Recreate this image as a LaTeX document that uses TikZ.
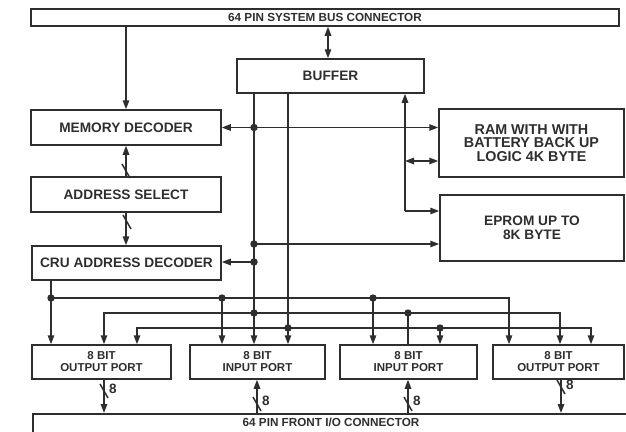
\documentclass[tikz,border=0pt]{standalone}
\usepackage{fontspec}
\setmainfont{Liberation Sans}
\usetikzlibrary{positioning,arrows.meta,calc}

\tikzset{
  ink/.style={draw=black!82, text=black!82},
  blk/.style={ink, line width=1.5pt, inner sep=0pt, align=center,
    font=\bfseries\fontsize{13.7}{13.7}\selectfont},
  portblk/.style={blk, minimum height=34pt,
    font=\bfseries\fontsize{11.5}{12}\selectfont},
  wire/.style={ink, line width=1.5pt},
  arr/.style={wire, -{Triangle[length=9pt,width=6.5pt]}},
  darr/.style={wire, {Triangle[length=9pt,width=6.5pt]}-{Triangle[length=9pt,width=6.5pt]}},
  jdot/.style={circle, fill=black!82, inner sep=0pt, minimum size=7.5pt},
  wlabel/.style={text=black!82, anchor=west, inner sep=0pt,
    font=\bfseries\fontsize{13.5}{13.5}\selectfont},
}

\begin{document}
\begin{tikzpicture}[x=1pt, y=-1pt]
\useasboundingbox (0,0) rectangle (626,431);
\clip (0,0) rectangle (626,431);
% blocks
\node[blk, minimum width=588pt, minimum height=17pt,
  font=\bfseries\fontsize{11.7}{11.7}\selectfont] (sysbus) at (325,17.5) {64 PIN SYSTEM BUS CONNECTOR};
\node[blk, minimum width=187pt, minimum height=34pt] (buffer) at (330.5,76) {BUFFER};
\node[blk, minimum width=190pt, minimum height=35pt] (memdec) at (126,127.5) {MEMORY DECODER};
\node[blk, minimum width=190pt, minimum height=35pt] (addrsel) at (126,194.5) {ADDRESS SELECT};
\node[blk, minimum width=189pt, minimum height=34pt] (crudec) at (126.5,263) {CRU ADDRESS DECODER};
\node[blk, minimum width=185pt, minimum height=68pt,
  font=\bfseries\fontsize{14.3}{13.6}\selectfont] (ram) at (531.5,143) {RAM WITH WITH\\BATTERY BACK UP\\LOGIC 4K BYTE};
\node[blk, minimum width=184pt, minimum height=66pt] (eprom) at (532,228) {EPROM UP TO\\8K BYTE};
\node[portblk, minimum width=139pt] (port1) at (101.5,362) {8 BIT\\OUTPUT PORT};
\node[portblk, minimum width=135pt] (port2) at (257.5,362) {8 BIT\\INPUT PORT};
\node[portblk, minimum width=137pt] (port3) at (408.5,362) {8 BIT\\INPUT PORT};
\node[portblk, minimum width=131pt] (port4) at (558.5,362) {8 BIT\\OUTPUT PORT};
\node[blk, minimum width=594pt, minimum height=30pt, anchor=north west] (frontio) at (32,413) {};
\node[text=black!82, font=\bfseries\fontsize{11.7}{11.7}\selectfont] (frontlbl) at (331,422.5) {64 PIN FRONT I/O CONNECTOR};

% line positions
\coordinate (xbus) at (328,0);
\coordinate (xrom) at (405,0);
\coordinate (p1a) at (51,0);  \coordinate (p1b) at (104,0); \coordinate (p1c) at (137,0);
\coordinate (p2a) at (222,0); \coordinate (p2b) at (254,0); \coordinate (p2c) at (288,0);
\coordinate (p3a) at (373,0); \coordinate (p3b) at (408,0); \coordinate (p3c) at (440,0);
\coordinate (p4a) at (509,0); \coordinate (p4b) at (560,0); \coordinate (p4c) at (591,0);
\coordinate (y1) at (0,298); \coordinate (y2) at (0,313); \coordinate (y3) at (0,328);

% system bus side
\draw[arr] (sysbus.south -| memdec.north) -- (memdec.north);
\draw[darr] (sysbus.south -| xbus) -- (buffer.north -| xbus);
\draw[arr] (addrsel.north) -- (memdec.south);
\draw[arr] (addrsel.south) -- (crudec.north -| addrsel.south);
\draw[darr] (memdec.east) -- (ram.west |- memdec.east);

% buffer data lines
\draw[arr] (buffer.south -| p2b) -- (port2.north -| p2b);
\draw[arr] (buffer.south -| p2c) -- (port2.north -| p2c);
\coordinate (romin) at (xrom |- 0,211);
\draw[arr] (romin) -- (buffer.south -| romin);
\draw[arr] (romin) -- (eprom.west |- romin);
\coordinate (ramin) at (xrom |- 0,161);
\draw[darr] (ramin) -- (ram.west |- ramin);
\node[jdot] (ja1) at (memdec.east -| p2b) {};
\node[jdot] (ja2) at (p2b |- 0,244) {};
\node[jdot] (ja3) at (p2b |- 0,262) {};
\draw[arr] (ja2.center) -- (eprom.west |- ja2);
\draw[arr] (ja3.center) -- (crudec.east |- ja3);

% port select lines
\draw[arr] (crudec.south -| p1a) -- (port1.north -| p1a);
\draw[arr] (y1 -| p1a) -| (port4.north -| p4a);
\draw[arr] (y1 -| p2a) -- (port2.north -| p2a);
\draw[arr] (y1 -| p3a) -- (port3.north -| p3a);
\draw[darr] (port1.north -| p1b) |- (y2 -| p4b) -- (port4.north -| p4b);
\draw[wire] (y2 -| p3b) -- (port3.north -| p3b);
\draw[darr] (port1.north -| p1c) |- (y3 -| p4c) -- (port4.north -| p4c);
\draw[arr] (y3 -| p3c) -- (port3.north -| p3c);
\foreach \c in {y1 -| p1a, y1 -| p2a, y1 -| p3a, y2 -| p2b, y2 -| p3b, y3 -| p2c, y3 -| p3c}
  \fill[black!82] (\c) circle (3.7pt);

% front i/o
\draw[arr] (port1.south -| p1b) -- (frontio.north -| p1b);
\draw[arr] (frontio.north -| 257,0) -- (port2.south -| 257,0);
\draw[arr] (frontio.north -| p3b) -- (port3.south -| p3b);
\draw[arr] (port4.south -| 561,0) -- (frontio.north -| 561,0);
\foreach \sx/\sy in {126/171, 127/222, 104/391, 257/404, 408/404, 561/387}
  \draw[wire] (\sx,\sy) ++(-4,-7) -- ++(8,14);
\node[wlabel] (w1) at (109,389) {8};
\node[wlabel] (w2) at (262,401) {8};
\node[wlabel] (w3) at (413,401) {8};
\node[wlabel] (w4) at (566,385) {8};
\end{tikzpicture}
\end{document}
